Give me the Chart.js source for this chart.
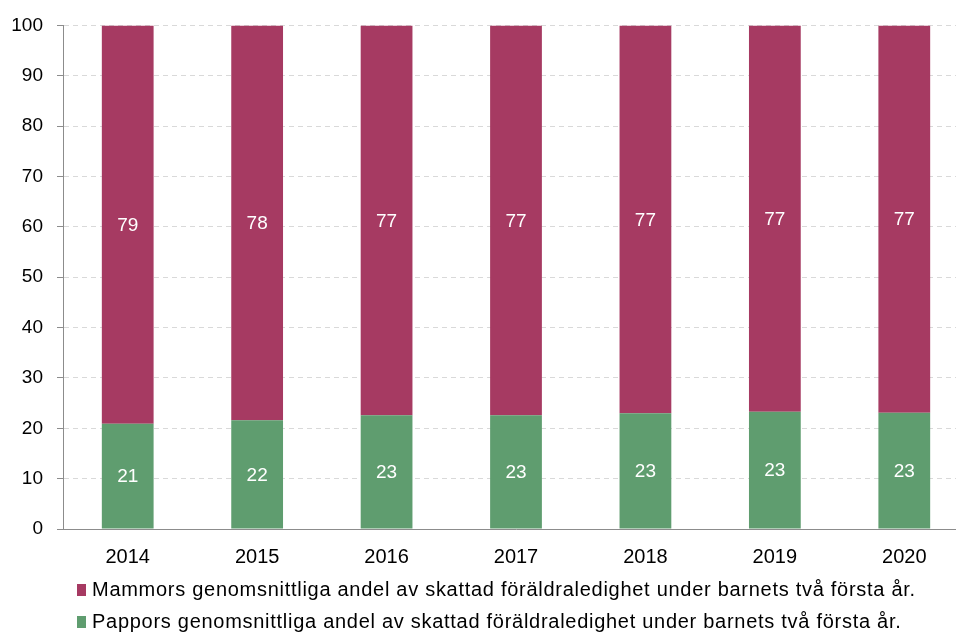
<!DOCTYPE html>
<html>
<head>
<meta charset="utf-8">
<script src="https://cdn.jsdelivr.net/npm/chart.js@4"></script>
<style>
  html, body { margin: 0; padding: 0; background: #fff; overflow: hidden; }
  #wrap { position: relative; width: 956px; height: 633px; overflow: hidden; }
  #chartBox { position: absolute; left: 0; top: 0; width: 970px; height: 633px; }
  .legend { position: absolute; left: 77px; font-family: "Liberation Sans", Arial, sans-serif; font-size: 20px; letter-spacing: 0.72px; color: #000; white-space: nowrap; }
  .legend .row { position: absolute; left: 0; display: flex; align-items: center; }
  .legend .sw { width: 9px; height: 12px; margin-right: 6px; }
</style>
</head>
<body>
<div id="wrap">
  <div id="chartBox"><canvas id="chart" width="970" height="633"></canvas></div>
  <div class="legend" id="legend"></div>
</div>
<script>
// Data
const years = ["2014", "2015", "2016", "2017", "2018", "2019", "2020"];
const pappor = [20.9, 21.6, 22.6, 22.6, 23.0, 23.3, 23.1];
const mammor = [79.1, 78.4, 77.4, 77.4, 77.0, 76.7, 76.9];
const yTicks = [0, 10, 20, 30, 40, 50, 60, 70, 80, 90, 100];

const seriesNames = [
  "Mammors genomsnittliga andel av skattad föräldraledighet under barnets två första år.",
  "Pappors genomsnittliga andel av skattad föräldraledighet under barnets två första år."
];
const colMammor = "#A63A62";
const colPappor = "#5F9D6F";

const FONT = "'Liberation Sans', Arial, sans-serif";

// vita värden mitt i varje stapeldel
const barLabels = {
  id: "barLabels",
  afterDatasetsDraw(chart) {
    const ctx = chart.ctx;
    ctx.save();
    ctx.fillStyle = "#fff";
    ctx.font = "19px " + FONT;
    ctx.textAlign = "center";
    ctx.textBaseline = "middle";
    chart.data.datasets.forEach((ds, i) => {
      chart.getDatasetMeta(i).data.forEach((bar, j) => {
        const { x, y, base } = bar.getProps(["x", "y", "base"], true);
        ctx.fillText(Math.round(ds.data[j]), x, (y + base) / 2 + 1);
      });
    });
    ctx.restore();
  }
};

new Chart(document.getElementById("chart"), {
  type: "bar",
  data: {
    labels: years,
    datasets: [
      { label: seriesNames[1], data: pappor, backgroundColor: colPappor },
      { label: seriesNames[0], data: mammor, backgroundColor: colMammor }
    ]
  },
  options: {
    responsive: false,
    animation: false,
    layout: { padding: { top: 24, left: 0, right: 1, bottom: 0 } },
    datasets: { bar: { barPercentage: 0.4, categoryPercentage: 1 } },
    plugins: { legend: { display: false }, tooltip: { enabled: false } },
    scales: {
      x: {
        stacked: true,
        grid: { display: false, drawTicks: false },
        border: { display: true, color: "#8c8c8c", width: 1 },
        ticks: { color: "#000", font: { family: FONT, size: 20 }, padding: 16 },
        afterFit: s => { s.height = 104; }
      },
      y: {
        stacked: true,
        min: 0,
        max: 100,
        afterBuildTicks: s => { s.ticks = yTicks.map(v => ({ value: v })); },
        grid: { color: "#d9d9d9", tickColor: "#8c8c8c", tickLength: 6, tickBorderDash: [] },
        border: { display: true, color: "#8c8c8c", width: 1, dash: [5, 4] },
        ticks: { color: "#000", font: { family: FONT, size: 19 }, padding: 14 },
        afterFit: s => { s.width = 63; }
      }
    }
  },
  plugins: [barLabels]
});

// legend
const legend = document.getElementById("legend");
[[seriesNames[0], colMammor, 578], [seriesNames[1], colPappor, 610]].forEach(([name, col, top]) => {
  const row = document.createElement("div");
  row.className = "row";
  row.style.top = top + "px";
  row.innerHTML = `<span class="sw" style="background:${col}"></span><span>${name}</span>`;
  legend.appendChild(row);
});
</script>
</body>
</html>
